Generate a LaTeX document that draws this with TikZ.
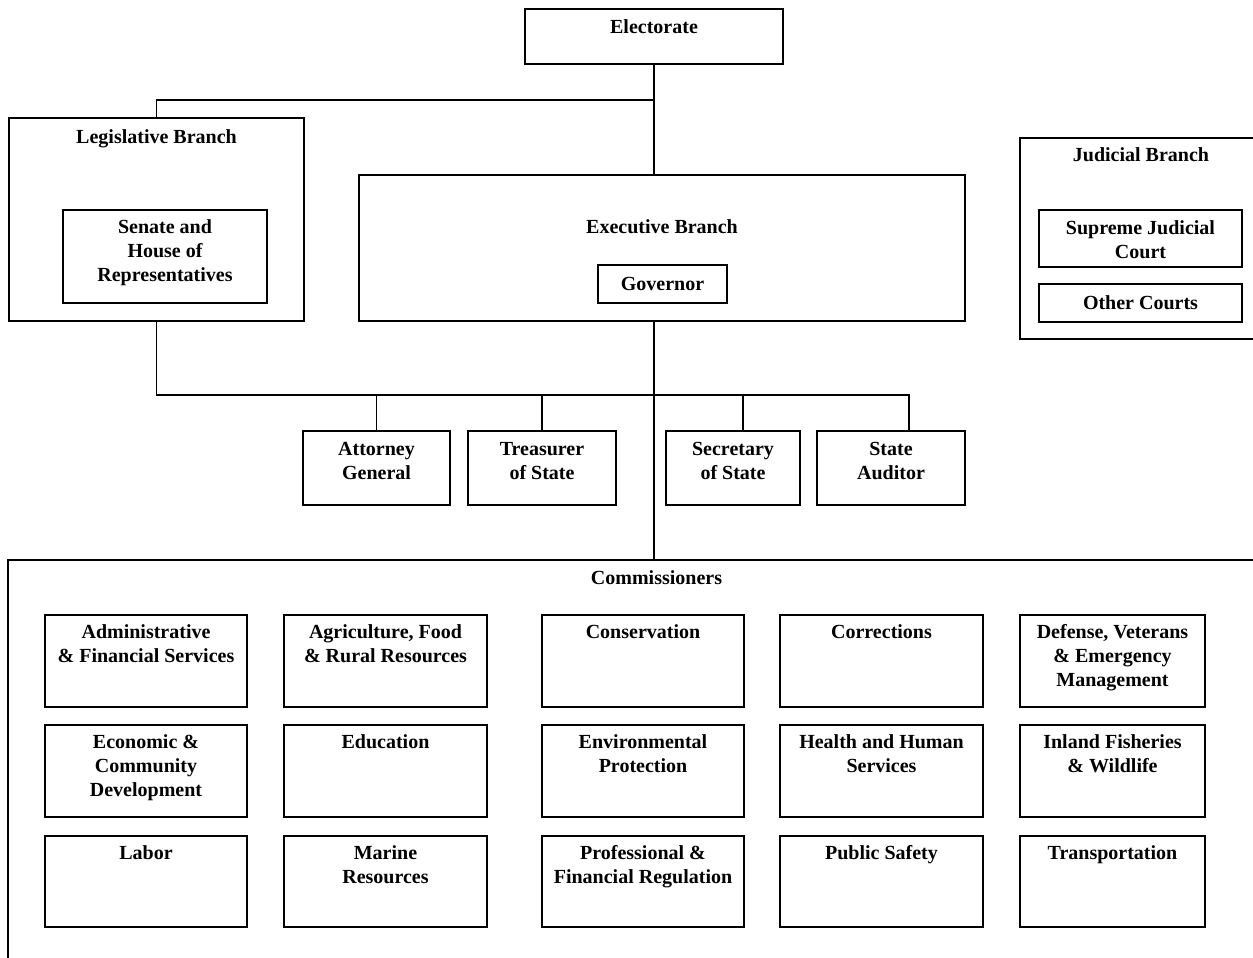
\documentclass[tikz,border=0pt]{standalone}
\usepackage{fontspec}
\setmainfont{Liberation Serif}
\newcommand\orgbox[7]{%
  \node[box, minimum width={(#4-#2)*1pt}, minimum height={(#5-#3)*1pt}] (#1) at ({(#2+#4)/2},{(#3+#5)/2}) {};
  \node[txt] (#1-t) at ([yshift={-(#6-15)*1pt}]#1.north) {\rule{0pt}{15pt}#7};
}
\begin{document}
\begin{tikzpicture}[x=1pt,y=-1pt,
  box/.style={draw, line width=1.7pt, rectangle, inner sep=0pt, outer sep=0pt},
  txt/.style={font=\bfseries\fontsize{20}{24}\selectfont, align=center, inner sep=0pt, anchor=north},
  conn/.style={line width=1.7pt}]
\useasboundingbox (0,0) rectangle (1253,958);
\clip (0,0) rectangle (1253,958);
% top
\orgbox{elect}{525}{9}{783}{64}{24}{Electorate}
\orgbox{leg}{9}{118}{304}{321}{25}{Legislative Branch}
\orgbox{sen}{63}{210}{267}{303}{23}{Senate and\\House of\\Representatives}
\orgbox{exec}{359}{175}{965}{321}{58}{Executive Branch}
\orgbox{gov}{598}{265}{727}{303}{25}{Governor}
\orgbox{jud}{1020}{138}{1262}{339}{23}{Judicial Branch}
\orgbox{sjc}{1039}{210}{1242}{267}{24}{Supreme Judicial\\Court}
\orgbox{oth}{1039}{284}{1242}{322}{25}{Other Courts}
% constitutional officers
\orgbox{ag}{303}{431}{450}{505}{24}{Attorney\\General}
\orgbox{tre}{468}{431}{616}{505}{24}{Treasurer\\of State}
\orgbox{sec}{666}{431}{800}{505}{24}{Secretary\\of State}
\orgbox{aud}{817}{431}{965}{505}{24}{State\\Auditor}
% commissioners
\orgbox{comm}{8}{560}{1305}{966}{24}{Commissioners}
\orgbox{c11}{45}{615}{247}{707}{23}{Administrative\\\& Financial Services}
\orgbox{c12}{284}{615}{487}{707}{23}{Agriculture, Food\\\& Rural Resources}
\orgbox{c13}{542}{615}{744}{707}{23}{Conservation}
\orgbox{c14}{780}{615}{983}{707}{23}{Corrections}
\orgbox{c15}{1020}{615}{1205}{707}{23}{Defense, Veterans\\\& Emergency\\Management}
\orgbox{c21}{45}{725}{247}{817}{23}{Economic \&\\Community\\Development}
\orgbox{c22}{284}{725}{487}{817}{23}{Education}
\orgbox{c23}{542}{725}{744}{817}{23}{Environmental\\Protection}
\orgbox{c24}{780}{725}{983}{817}{23}{Health and Human\\Services}
\orgbox{c25}{1020}{725}{1205}{817}{23}{Inland Fisheries\\\& Wildlife}
\orgbox{c31}{45}{836}{247}{927}{23}{Labor}
\orgbox{c32}{284}{836}{487}{927}{23}{Marine\\Resources}
\orgbox{c33}{542}{836}{744}{927}{23}{Professional \&\\Financial Regulation}
\orgbox{c34}{780}{836}{983}{927}{23}{Public Safety}
\orgbox{c35}{1020}{836}{1205}{927}{23}{Transportation}
% connectors
\coordinate (top) at (0,100);
\coordinate (mid) at (0,395);
\draw[conn] (elect.south) -- (elect.south |- exec.north);
\draw[conn] (leg.north) -- (leg.north |- top) -| (elect.south);
\draw[conn] (elect.south |- exec.south) -- (elect.south |- comm.north);
\coordinate (secd) at ([xshift=10pt]sec.north);
\coordinate (audd) at ([xshift=18pt]aud.north);
\draw[conn] (leg.south) -- (leg.south |- mid) -| (audd);
\draw[conn] (ag.north) -- (ag.north |- mid);
\draw[conn] (tre.north) -- (tre.north |- mid);
\draw[conn] (secd) -- (secd |- mid);
\end{tikzpicture}
\end{document}
